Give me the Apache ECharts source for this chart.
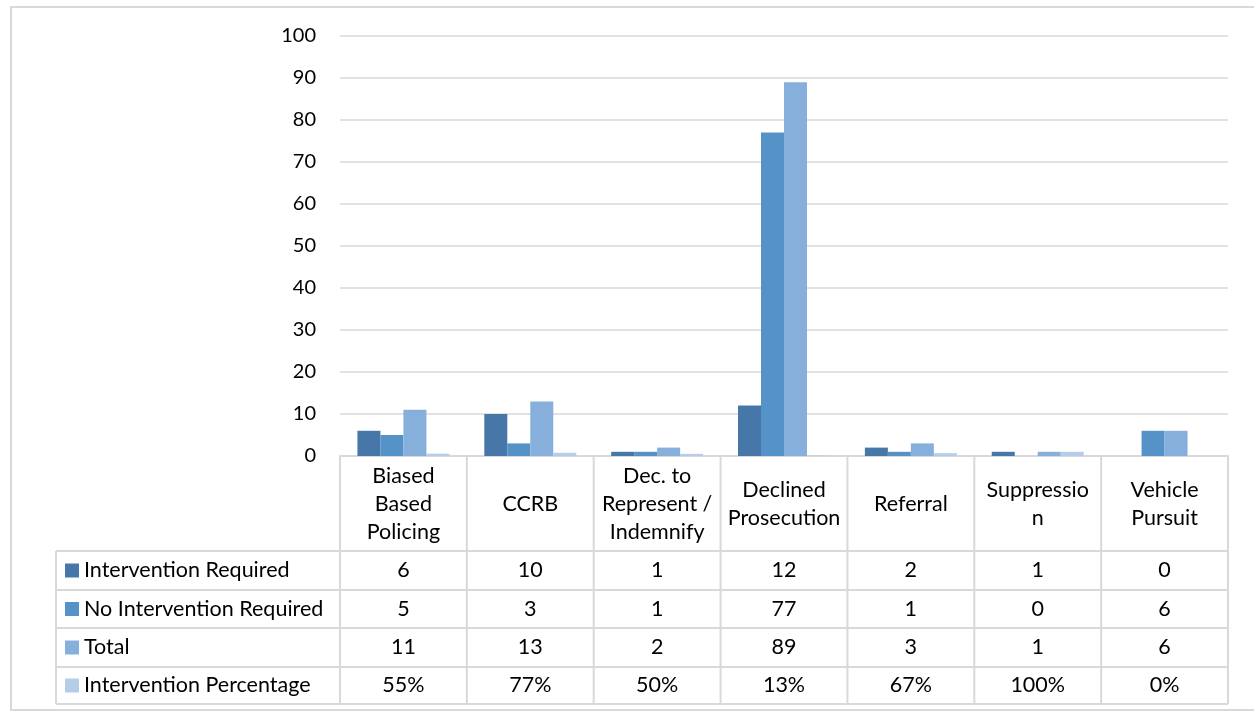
<!DOCTYPE html>
<html>
<head>
<meta charset="utf-8">
<script src="https://cdn.jsdelivr.net/npm/echarts@6/dist/echarts.min.js"></script>
<style>
  html, body { margin: 0; padding: 0; background: #fff; }
  #chart { width: 1254px; height: 711px; }
</style>
</head>
<body>
<div id="chart"></div>
<script>
// categories (header of the data table)
const categories = ["Biased\nBased\nPolicing", "CCRB", "Dec. to\nRepresent /\nIndemnify",
  "Declined\nProsecution", "Referral", "Suppressio\nn", "Vehicle\nPursuit"];
const seriesNames = ["Intervention Required", "No Intervention Required", "Total", "Intervention Percentage"];
const interventionRequired = [6, 10, 1, 12, 2, 1, 0];
const noInterventionRequired = [5, 3, 1, 77, 1, 0, 6];
const total = [11, 13, 2, 89, 3, 1, 6];
const interventionPct = [0.55, 0.77, 0.5, 0.13, 0.67, 1, 0];
const yTicks = [0, 10, 20, 30, 40, 50, 60, 70, 80, 90, 100];
const colors = ["#4677a8", "#5592c8", "#86afdc", "#b6cde9"];

const fontFam = "Lato, 'Open Sans', sans-serif";
const tSize = 21.5;
const lineCol = "#d9d9d9";
const allSeries = [interventionRequired, noInterventionRequired, total, interventionPct];

const chart = echarts.init(document.getElementById("chart"));
chart.setOption({
  animation: false,
  grid: { left: 340, right: 26, top: 36, bottom: 255, containLabel: false },
  xAxis: {
    type: "category",
    data: categories,
    axisLine: { lineStyle: { color: lineCol, width: 2 } },
    axisTick: { show: false },
    axisLabel: {
      interval: 0,
      margin: 48,
      verticalAlign: "middle",
      lineHeight: 28,
      fontSize: tSize,
      fontFamily: fontFam,
      color: "#000"
    }
  },
  yAxis: {
    type: "value",
    min: yTicks[0],
    max: yTicks[yTicks.length - 1],
    interval: 10,
    axisLine: { show: false },
    axisTick: { show: false },
    splitLine: { lineStyle: { color: lineCol, width: 1.5 } },
    axisLabel: { margin: 24, fontSize: 20, fontFamily: fontFam, color: "#000" }
  },
  series: allSeries.map((d, i) => ({
    name: seriesNames[i],
    type: "bar",
    data: d,
    barGap: "0%",
    barCategoryGap: "27.5%",
    itemStyle: { color: colors[i] }
  }))
});

// data table under the plot, placed with the chart's own x scale
function fmt(i, v) { return i === 3 ? Math.round(v * 100) + "%" : String(v); }
const rowTops = [551, 590, 628, 667, 704];
const tableLeft = 56;
const centers = categories.map((c, j) => chart.convertToPixel({ xAxisIndex: 0 }, j));
const band = centers.length > 1 ? centers[1] - centers[0] : 127;
const bounds = centers.map(c => c - band / 2).concat([centers[centers.length - 1] + band / 2]);
const tableRight = bounds[bounds.length - 1];
const g = [];

// outer chart border
g.push({ type: "rect", shape: { x: 11, y: 7, width: 1260, height: 703 },
  style: { fill: null, stroke: lineCol, lineWidth: 2 }, silent: true });

bounds.forEach(x => g.push({ type: "line", shape: { x1: x, y1: 456, x2: x, y2: rowTops[4] },
  style: { stroke: lineCol, lineWidth: 2 } }));
g.push({ type: "line", shape: { x1: tableLeft, y1: rowTops[0], x2: tableLeft, y2: rowTops[4] },
  style: { stroke: lineCol, lineWidth: 2 } });
rowTops.forEach(y => g.push({ type: "line", shape: { x1: tableLeft, y1: y, x2: tableRight, y2: y },
  style: { stroke: lineCol, lineWidth: 2 } }));

seriesNames.forEach((name, i) => {
  const cy = (rowTops[i] + rowTops[i + 1]) / 2;
  g.push({ type: "rect", shape: { x: 65, y: cy - 7, width: 14, height: 14 }, style: { fill: colors[i] } });
  g.push({ type: "text", x: 84, y: cy, style: { text: name, fontSize: tSize, fontFamily: fontFam,
    fill: "#000", verticalAlign: "middle" } });
  allSeries[i].forEach((v, j) => {
    g.push({ type: "text", x: centers[j], y: cy, style: { text: fmt(i, v), fontSize: tSize,
      fontFamily: fontFam, fill: "#000", align: "center", verticalAlign: "middle" } });
  });
});
chart.setOption({ graphic: g });
</script>
</body>
</html>
